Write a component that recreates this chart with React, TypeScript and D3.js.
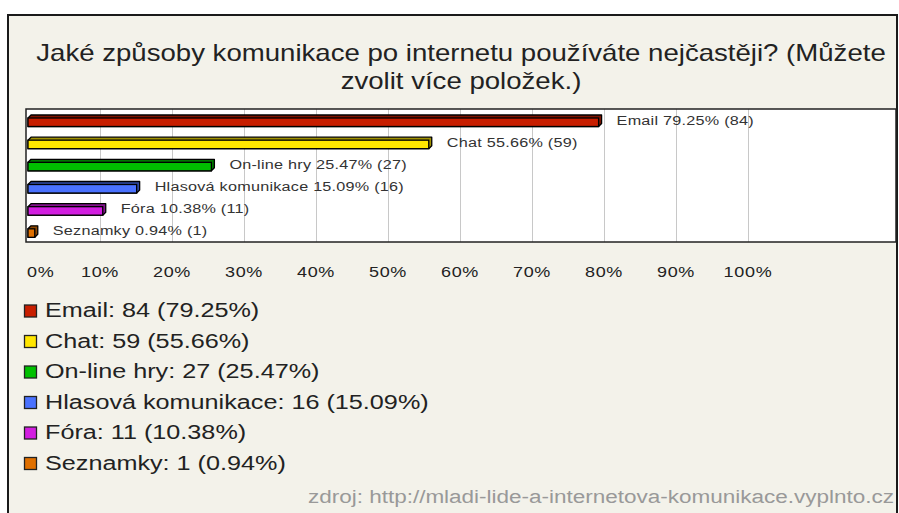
import React from "react";
import * as d3 from "d3";

const categories = ["Email", "Chat", "On-line hry", "Hlasová komunikace", "Fóra", "Seznamky"];
const counts = [84, 59, 27, 16, 11, 1];
const percents = [79.25, 55.66, 25.47, 15.09, 10.38, 0.94];
const colors = ["#c81e00", "#ffe600", "#00c000", "#4a72ff", "#d21ee0", "#e07000"];
const tickValues = [0, 10, 20, 30, 40, 50, 60, 70, 80, 90, 100];
const titleLines = ["Jaké způsoby komunikace po internetu používáte nejčastěji? (Můžete", "zvolit více položek.)"];
const source = "zdroj: http://mladi-lide-a-internetova-komunikace.vyplnto.cz";

const W = 899;
const H = 513;
const FONT = "Liberation Sans, Arial, sans-serif";
const SX = 1.2; // the original rendering is stretched horizontally

const App = () => {
    const svgRef = React.useRef(null);

    React.useEffect(() => {
        drawChart();
    }, []);

    const drawChart = () => {
        const svg = d3.select(svgRef.current);
        svg.selectAll("*").remove();

        // panel
        svg.append("rect").attr("width", W).attr("height", H).attr("fill", "#ffffff");
        svg.append("rect")
            .attr("x", 8).attr("y", 15).attr("width", 889).attr("height", H)
            .attr("fill", "#f3f2ea").attr("stroke", "#1a1a1a").attr("stroke-width", 2);

        // title
        svg.append("g")
            .selectAll("text")
            .data(titleLines)
            .join("text")
            .attr("transform", (d, i) => `translate(461, ${61 + i * 28}) scale(${SX}, 1)`)
            .attr("text-anchor", "middle")
            .attr("font-family", FONT)
            .attr("font-size", 23)
            .attr("fill", "#222")
            .text(d => d);

        const plot = { left: 26, top: 109, right: 896, bottom: 242 };
        const x = d3.scaleLinear().domain([0, 100]).range([28, 748]);
        const y = d3.scaleBand().domain(categories).range([plot.top, plot.bottom]);

        svg.append("rect")
            .attr("x", plot.left).attr("y", plot.top)
            .attr("width", plot.right - plot.left).attr("height", plot.bottom - plot.top)
            .attr("fill", "#fff");

        svg.append("g")
            .selectAll("line")
            .data(tickValues.slice(1))
            .join("line")
            .attr("x1", d => x(d) + 0.5).attr("x2", d => x(d) + 0.5)
            .attr("y1", plot.top).attr("y2", plot.bottom)
            .attr("stroke", "#c8c8c8").attr("stroke-width", 1);

        // 3d bars
        const depth = 3;
        const faceH = 8.5;
        const bars = svg.append("g")
            .selectAll("g")
            .data(categories)
            .join("g")
            .attr("transform", d => `translate(0, ${y(d) + 9})`);

        bars.append("path")
            .attr("d", (d, i) => {
                const x0 = x(0), x1 = x(percents[i]);
                return `M${x0},0 L${x0 + depth},${-depth} L${x1 + depth},${-depth} L${x1 + depth},${faceH - depth} L${x1},${faceH} L${x0},${faceH} Z`;
            })
            .attr("fill", (d, i) => d3.color(colors[i]).darker(1.3))
            .attr("stroke", "#000").attr("stroke-width", 1.3).attr("stroke-linejoin", "round");

        bars.append("rect")
            .attr("x", x(0))
            .attr("y", 0)
            .attr("width", (d, i) => x(percents[i]) - x(0))
            .attr("height", faceH)
            .attr("fill", (d, i) => colors[i])
            .attr("stroke", "#000").attr("stroke-width", 1.3);

        bars.append("text")
            .attr("transform", (d, i) => `translate(${x(percents[i]) + 18}, 6.5) scale(${SX}, 1)`)
            .attr("font-family", FONT)
            .attr("font-size", 13.5)
            .attr("letter-spacing", 0.2)
            .attr("fill", "#333")
            .text((d, i) => `${d} ${percents[i].toFixed(2)}% (${counts[i]})`);

        svg.append("rect")
            .attr("x", plot.left).attr("y", plot.top)
            .attr("width", plot.right - plot.left).attr("height", plot.bottom - plot.top)
            .attr("fill", "none").attr("stroke", "#222").attr("stroke-width", 1.5);

        // axis labels
        svg.append("g")
            .selectAll("text")
            .data(tickValues)
            .join("text")
            .attr("transform", d => `translate(${d === 0 ? x(d) - 1 : x(d)}, 277) scale(${SX}, 1)`)
            .attr("text-anchor", d => d === 0 ? "start" : "middle")
            .attr("font-family", FONT)
            .attr("font-size", 15)
            .attr("letter-spacing", 0.6)
            .attr("fill", "#222")
            .text(d => d + "%");

        // legend
        const legend = svg.append("g")
            .selectAll("g")
            .data(categories)
            .join("g")
            .attr("transform", (d, i) => `translate(24.5, ${305 + i * 30.5})`);

        legend.append("rect")
            .attr("width", 12).attr("height", 12)
            .attr("fill", (d, i) => colors[i])
            .attr("stroke", "#222").attr("stroke-width", 1.3);

        legend.append("text")
            .attr("transform", `translate(20.5, 12) scale(${SX}, 1)`)
            .attr("font-family", FONT)
            .attr("font-size", 21)
            .attr("fill", "#222")
            .text((d, i) => `${d}: ${counts[i]} (${percents[i].toFixed(2)}%)`);

        svg.append("text")
            .attr("transform", `translate(894, 503) scale(1.25, 1)`)
            .attr("text-anchor", "end")
            .attr("font-family", FONT)
            .attr("font-size", 18)
            .attr("fill", "#999")
            .text(source);
    };

    return (
        <svg
            ref={svgRef}
            width={W}
            height={H}
            style={{ position: "absolute", left: 0, top: 0, display: "block" }}
        />
    );
};

export default App;
